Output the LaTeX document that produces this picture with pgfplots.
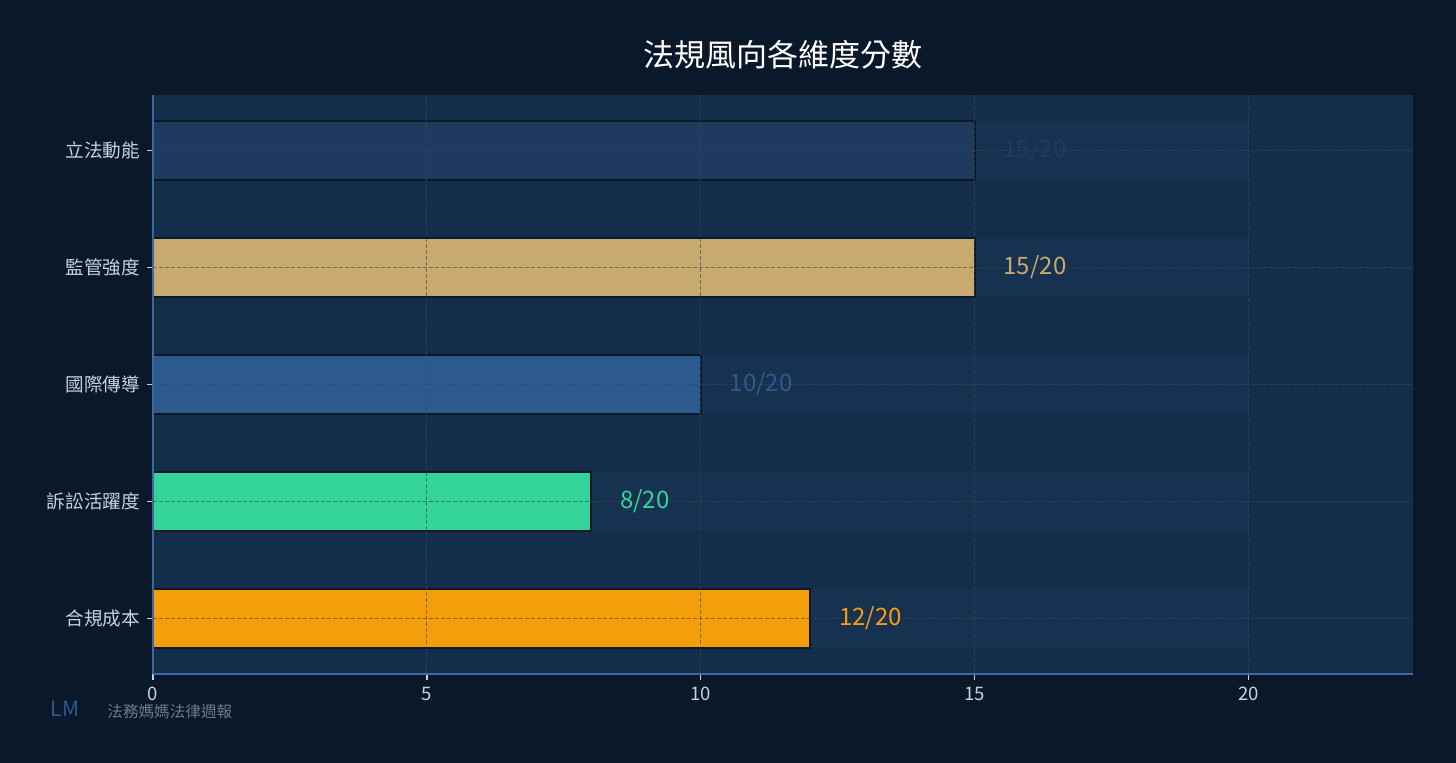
\documentclass[border=0pt]{standalone}
\usepackage{fontspec}
\setmainfont{Noto Sans CJK TC}
\usepackage{pgfplots}
\pgfplotsset{compat=1.18}
\definecolor{pagebg}{HTML}{0B1829}
\definecolor{axbg}{HTML}{142D4A}
\definecolor{track}{HTML}{173251}
\definecolor{axline}{HTML}{3B6AA0}
\definecolor{ticktxt}{HTML}{C8D0DA}
\definecolor{gridc}{HTML}{3C4656}
\definecolor{cnavy}{HTML}{1E3A5F}
\definecolor{ctan}{HTML}{C8A96E}
\definecolor{cblue}{HTML}{2D5A8E}
\definecolor{cgreen}{HTML}{34D399}
\definecolor{corange}{HTML}{F59E0B}
\definecolor{wmgray}{HTML}{6B7A8C}
\begin{document}
\begin{tikzpicture}[x=1pt,y=1pt]
\fill[pagebg] (0,0) rectangle (728,381.5);
\node[text=white, font=\fontsize{15.5}{18}\selectfont] at (391.5,354) {法規風向各維度分數};
\node[text=cblue, font=\fontsize{10.5}{12}\selectfont] at (32.5,27) {LM};
\node[text=wmgray, font=\fontsize{7.8}{9}\selectfont, anchor=west, inner sep=0] at (53.5,25.5) {法務媽媽法律週報};
\begin{axis}[
    at={(76.5pt,44.5pt)}, anchor=south west,
    scale only axis, width=630pt, height=289.5pt,
    xmin=0, xmax=23, ymin=-0.475, ymax=4.475,
    xbar, bar width=0.5,
    axis on top,
    axis background/.style={fill=axbg},
    axis x line*=bottom, axis y line*=left,
    axis line style={axline, line width=0.8pt},
    xtick={0,5,10,15,20},
    ytick={0,1,2,3,4},
    yticklabels={合規成本,訴訟活躍度,國際傳導,監管強度,立法動能},
    tick align=outside, major tick length=3pt,
    tick style={ticktxt, line width=0.6pt},
    ticklabel style={text=ticktxt, font=\fontsize{9.3}{11}\selectfont},
    /pgf/number format/assume math mode=true,
    xmajorgrids, ymajorgrids,
    major grid style={gridc, opacity=0.6, line width=0.5pt, dash pattern=on 2pt off 1pt},
    nodes near coords style={anchor=west, inner sep=0pt, xshift=14pt, font=\fontsize{12}{14}\selectfont},
  ]
\addplot[fill=track, draw=none, bar shift=0pt] coordinates {(20,0) (20,1) (20,2) (20,3) (20,4)};
\addplot[fill=corange, draw=pagebg, line width=0.9pt, bar shift=0pt,
  nodes near coords={12/20}, every node near coord/.append style={text=corange}] coordinates {(12,0)};
\addplot[fill=cgreen, draw=pagebg, line width=0.9pt, bar shift=0pt,
  nodes near coords={8/20}, every node near coord/.append style={text=cgreen}] coordinates {(8,1)};
\addplot[fill=cblue, draw=pagebg, line width=0.9pt, bar shift=0pt,
  nodes near coords={10/20}, every node near coord/.append style={text=cblue}] coordinates {(10,2)};
\addplot[fill=ctan, draw=pagebg, line width=0.9pt, bar shift=0pt,
  nodes near coords={15/20}, every node near coord/.append style={text=ctan}] coordinates {(15,3)};
\addplot[fill=cnavy, draw=pagebg, line width=0.9pt, bar shift=0pt,
  nodes near coords={15/20}, every node near coord/.append style={text=cnavy}] coordinates {(15,4)};
\end{axis}
\end{tikzpicture}
\end{document}
